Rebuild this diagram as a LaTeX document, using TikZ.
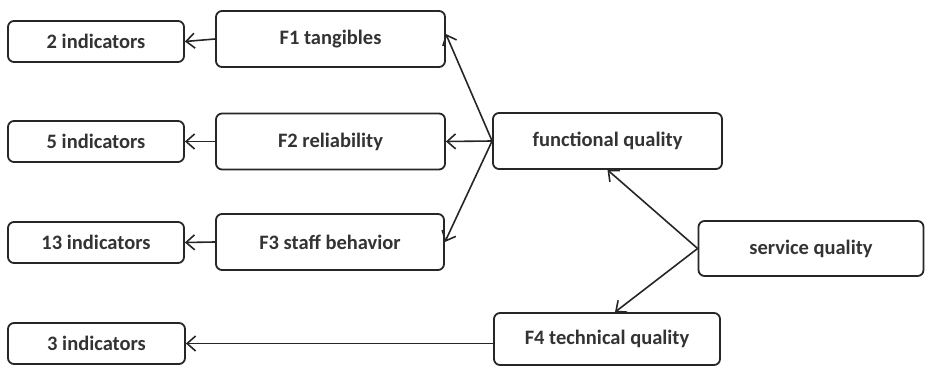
\documentclass[tikz,border=0pt]{standalone}
\usepackage{fontspec}
\setmainfont{Carlito}
\usetikzlibrary{arrows.meta}
\begin{document}
\begin{tikzpicture}[x=1pt,y=-1pt,
  box/.style={draw=black!85,line width=1.8pt,rounded corners=6pt,inner sep=0pt,
    font=\fontsize{20.5}{22}\selectfont\bfseries,text=black!80},
  conn/.style={draw=black!85,line width=1.6pt,-{Straight Barb[length=8.5pt,width=15pt,line width=1.6pt]}}]
\useasboundingbox (0,0) rectangle (925,366);
\node[box,minimum width=176pt,minimum height=41pt] (i2) at (96,41.5) {2 indicators};
\node[box,minimum width=229pt,minimum height=56pt] (f1) at (330.5,39) {F1 tangibles};
\node[box,minimum width=176pt,minimum height=41pt] (i5) at (96,141.5) {5 indicators};
\node[box,minimum width=229pt,minimum height=56pt] (f2) at (330.5,141.5) {F2 reliability};
\node[box,minimum width=176pt,minimum height=41pt] (i13) at (96,242.5) {13 indicators};
\node[box,minimum width=228pt,minimum height=56pt] (f3) at (330,242) {F3 staff behavior};
\node[box,minimum width=177pt,minimum height=41pt] (i3) at (96.5,343.5) {3 indicators};
\node[box,minimum width=226pt,minimum height=52pt] (f4) at (607,339) {F4 technical quality};
\node[box,minimum width=229pt,minimum height=56pt] (fq) at (607.5,141) {functional quality};
\node[box,minimum width=225pt,minimum height=55pt] (sq) at (811,248.5) {service quality};
\draw[conn] (f1.west) -- (i2.east);
\draw[conn] (f2.west) -- (i5.east);
\draw[conn] (f3.west) -- (i13.east);
\draw[conn] (f4.west |- i3.east) -- (i3.east);
\draw[conn] (fq.west) -- ([yshift=5pt]f1.east);
\draw[conn] (fq.west) -- (f2.east);
\draw[conn] (fq.west) -- (f3.east);
\draw[conn] (sq.west) -- (fq.south);
\draw[conn] (sq.west) -- ([xshift=8pt]f4.north);
\end{tikzpicture}
\end{document}
